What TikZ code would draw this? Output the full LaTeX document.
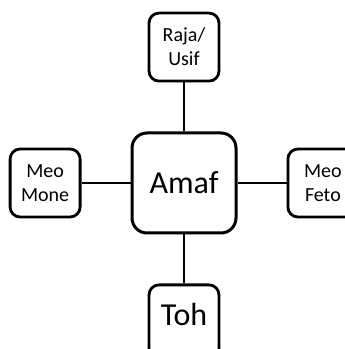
\documentclass[tikz,border=0pt]{standalone}
\usepackage{fontspec}
\setmainfont{Carlito}
\usetikzlibrary{positioning}

\begin{document}
\begin{tikzpicture}[node distance=49pt, line width=1.8pt,
    hub/.style={draw, line width=3pt, rounded corners=15pt, minimum width=104pt, minimum height=100pt, font=\fontsize{32}{38}\selectfont},
    leaf/.style={draw, line width=2.8pt, rounded corners=10pt, minimum width=70pt, minimum height=68pt, align=center, font=\fontsize{20}{24}\selectfont}]
			\useasboundingbox (0,0) rectangle (345pt,349pt);
			\clip (0,0) rectangle (345pt,349pt);
			% Nodes
			\node (Amaf) [hub] at (184pt,166pt) {Amaf};
			\node (Raja) [leaf, above=of Amaf] {Raja/\\Usif};
			\node (Mone) [leaf, left=of Amaf] {Meo\\Mone};
			\node (Feto) [leaf, right=of Amaf] {Meo\\Feto};
			\node (Toh) [leaf, below=of Amaf, font=\fontsize{32}{38}\selectfont, text height=37pt, text depth=30pt] {Toh};
		
			% Lines
			\draw (Amaf) -- (Raja);
			\draw (Amaf) -- (Mone);
			\draw (Amaf) -- (Feto);
			\draw (Amaf) -- (Toh);
		\end{tikzpicture}
\end{document}
